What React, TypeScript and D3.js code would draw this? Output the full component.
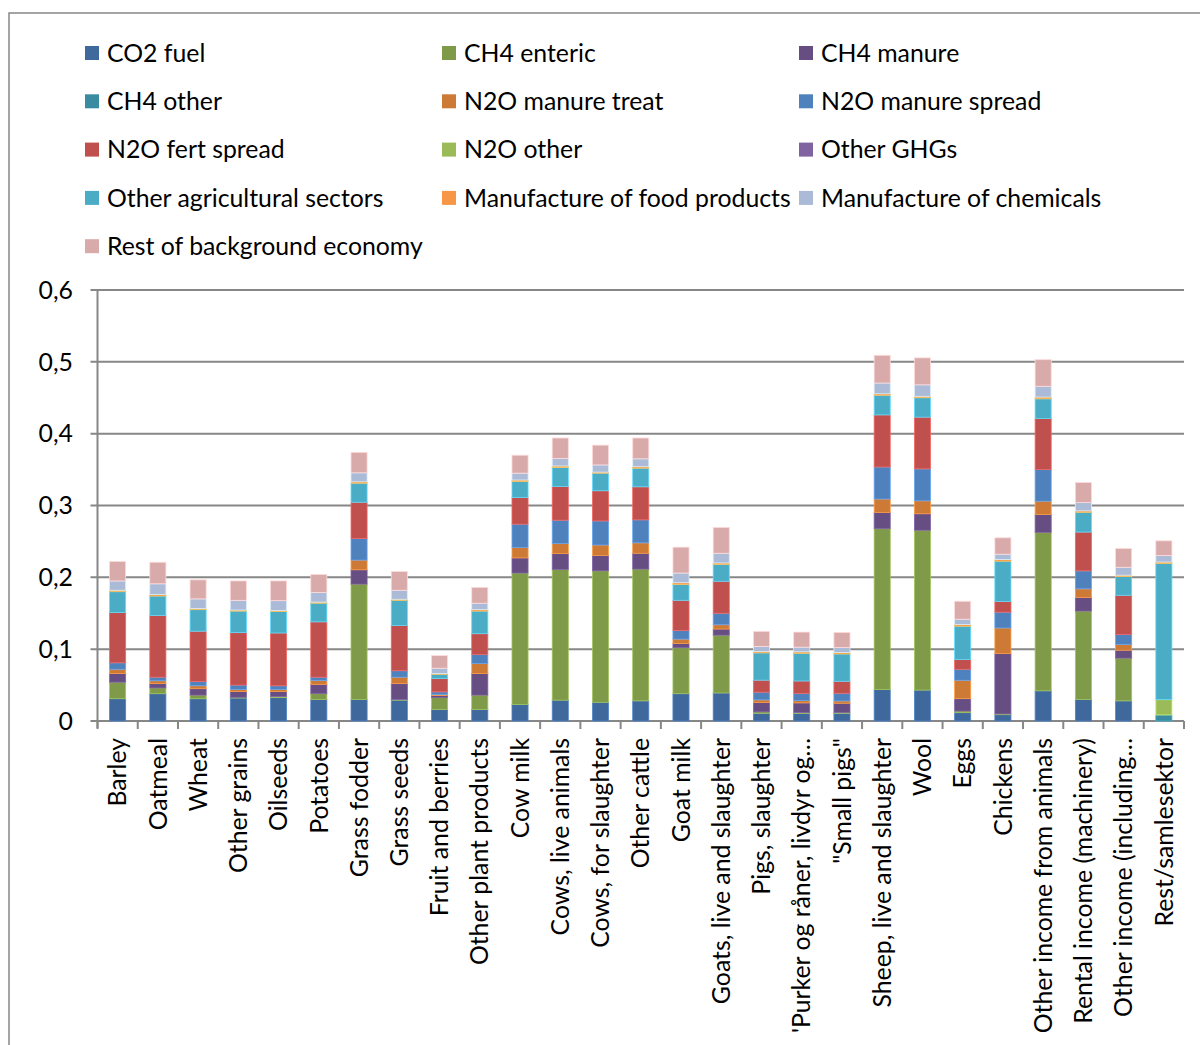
import React from "react";
import * as d3 from "d3";

// Product groups along the x axis
const categories = [
  "Barley", "Oatmeal", "Wheat", "Other grains", "Oilseeds", "Potatoes",
  "Grass fodder", "Grass seeds", "Fruit and berries", "Other plant products",
  "Cow milk", "Cows, live animals", "Cows, for slaughter", "Other cattle",
  "Goat milk", "Goats, live and slaughter", "Pigs, slaughter",
  "'Purker og råner, livdyr og…", "\"Small pigs\"", "Sheep, live and slaughter",
  "Wool", "Eggs", "Chickens", "Other income from animals",
  "Rental income (machinery)", "Other income (including…", "Rest/samlesektor",
];

// Emission contributions per group (stacked bottom to top)
const co2Fuel = [0.031, 0.038, 0.031, 0.032, 0.0325, 0.030, 0.030, 0.029, 0.016, 0.016, 0.023, 0.029, 0.026, 0.028, 0.038, 0.039, 0.0107, 0.0107, 0.0107, 0.0437, 0.043, 0.0116, 0.0088, 0.042, 0.030, 0.028, 0];
const ch4Enteric = [0.023, 0.008, 0.005, 0.001, 0.0015, 0.008, 0.1605, 0.001, 0.0165, 0.020, 0.183, 0.182, 0.183, 0.1835, 0.064, 0.0805, 0.002, 0.001, 0.001, 0.224, 0.2225, 0.0023, 0.001, 0.2205, 0.123, 0.0595, 0];
const ch4Manure = [0.012, 0.006, 0.009, 0.008, 0.007, 0.013, 0.020, 0.022, 0.003, 0.030, 0.021, 0.022, 0.0215, 0.022, 0.006, 0.0085, 0.013, 0.0135, 0.013, 0.0227, 0.023, 0.0172, 0.084, 0.025, 0.019, 0.011, 0];
const ch4Other = [0, 0, 0, 0, 0, 0, 0, 0, 0, 0, 0, 0, 0, 0, 0, 0, 0, 0, 0, 0, 0, 0, 0, 0, 0, 0, 0.0084];
const n2oManureTreat = [0.006, 0.004, 0.004, 0.003, 0.003, 0.0055, 0.0135, 0.009, 0.0015, 0.014, 0.0145, 0.014, 0.0145, 0.0145, 0.006, 0.006, 0.0037, 0.0033, 0.0032, 0.0186, 0.018, 0.0256, 0.0357, 0.0185, 0.012, 0.008, 0];
const n2oManureSpread = [0.009, 0.005, 0.006, 0.006, 0.005, 0.0045, 0.030, 0.009, 0.0035, 0.0125, 0.0325, 0.0325, 0.0335, 0.032, 0.012, 0.016, 0.0107, 0.010, 0.0107, 0.0446, 0.0445, 0.0153, 0.022, 0.044, 0.025, 0.014, 0];
const n2oFertSpread = [0.070, 0.086, 0.070, 0.073, 0.0735, 0.077, 0.0505, 0.063, 0.0185, 0.029, 0.037, 0.047, 0.042, 0.046, 0.042, 0.0445, 0.0167, 0.0172, 0.0167, 0.0725, 0.072, 0.0135, 0.015, 0.071, 0.054, 0.0545, 0];
const n2oOther = [0, 0, 0, 0, 0, 0, 0, 0, 0, 0, 0, 0, 0, 0, 0, 0, 0, 0, 0, 0, 0, 0, 0, 0, 0, 0, 0.0213];
const otherGhgs = [0, 0, 0, 0, 0, 0, 0, 0, 0, 0, 0, 0, 0, 0, 0, 0, 0, 0, 0, 0, 0, 0, 0, 0, 0, 0, 0];
const otherAgri = [0.029, 0.027, 0.030, 0.030, 0.030, 0.026, 0.0265, 0.035, 0.006, 0.0315, 0.0225, 0.0265, 0.0245, 0.026, 0.022, 0.0235, 0.038, 0.0386, 0.038, 0.0274, 0.027, 0.0465, 0.056, 0.0275, 0.0275, 0.026, 0.1896];
const foodProducts = [0.002, 0.002, 0.0015, 0.0015, 0.0015, 0.0015, 0.002, 0.0015, 0.001, 0.002, 0.002, 0.002, 0.0015, 0.002, 0.0025, 0.002, 0.002, 0.002, 0.002, 0.002, 0.002, 0.0023, 0.0023, 0.0025, 0.002, 0.002, 0.002];
const chemicals = [0.013, 0.015, 0.0135, 0.0135, 0.0135, 0.0135, 0.0125, 0.0125, 0.0075, 0.009, 0.0095, 0.0105, 0.010, 0.011, 0.0135, 0.0135, 0.007, 0.0065, 0.007, 0.015, 0.016, 0.0074, 0.0074, 0.015, 0.0115, 0.011, 0.009];
const restEconomy = [0.027, 0.030, 0.0265, 0.027, 0.0275, 0.025, 0.0285, 0.026, 0.0175, 0.022, 0.025, 0.0285, 0.0275, 0.029, 0.036, 0.036, 0.021, 0.021, 0.021, 0.0386, 0.0375, 0.025, 0.0228, 0.037, 0.028, 0.026, 0.0205];

const yTicks = [0, 0.1, 0.2, 0.3, 0.4, 0.5, 0.6];

const series = [
  { key: "co2Fuel", label: "CO2 fuel", color: "#3F689C", values: co2Fuel },
  { key: "ch4Enteric", label: "CH4 enteric", color: "#7F9A48", values: ch4Enteric },
  { key: "ch4Manure", label: "CH4 manure", color: "#664E83", values: ch4Manure },
  { key: "ch4Other", label: "CH4 other", color: "#3A8BA1", values: ch4Other },
  { key: "n2oManureTreat", label: "N2O manure treat", color: "#CC7A36", values: n2oManureTreat },
  { key: "n2oManureSpread", label: "N2O manure spread", color: "#4F81BD", values: n2oManureSpread },
  { key: "n2oFertSpread", label: "N2O fert spread", color: "#C0504D", values: n2oFertSpread },
  { key: "n2oOther", label: "N2O other", color: "#9BBB59", values: n2oOther },
  { key: "otherGhgs", label: "Other GHGs", color: "#8064A2", values: otherGhgs },
  { key: "otherAgri", label: "Other agricultural sectors", color: "#4BACC6", values: otherAgri },
  { key: "foodProducts", label: "Manufacture of food products", color: "#F79646", values: foodProducts },
  { key: "chemicals", label: "Manufacture of chemicals", color: "#AABAD7", values: chemicals },
  { key: "restEconomy", label: "Rest of background economy", color: "#D9AAAA", values: restEconomy },
];

const FONT = "Lato, 'Noto Sans', sans-serif";
const FONT_SIZE = 24.8;
const GRID = "#878787";

export default function App() {
  const width = 1200;
  const height = 1045;
  const plot = { left: 97.5, right: 1184, top: 290, bottom: 721 };

  const x = d3.scaleBand<string>()
    .domain(categories)
    .range([plot.left, plot.right])
    .paddingInner(0.6)
    .paddingOuter(0.3);
  const step = (plot.right - plot.left) / categories.length;

  const y = d3.scaleLinear().domain([0, 0.6]).range([plot.bottom, plot.top]);

  const rows = categories.map((c, i) => {
    const r: Record<string, any> = { category: c };
    series.forEach((s) => (r[s.key] = s.values[i]));
    return r;
  });
  const stacked = d3.stack<any>().keys(series.map((s) => s.key))(rows);

  const legendCols = [107, 464, 821];
  const legendRowY = (r: number) => 53 + r * 48.3;

  return (
    <svg
      width={width}
      height={height}
      style={{ position: "absolute", left: 0, top: 0, background: "#fff" }}
      fontFamily={FONT}
    >
      <rect x={9} y={13} width={1300} height={1200} fill="#fff" stroke={GRID} strokeWidth={1.5} />

      {/* legend */}
      {series.map((s, i) => {
        const col = i % 3;
        const row = Math.floor(i / 3);
        const tx = legendCols[col];
        const cy = legendRowY(row);
        return (
          <g key={s.key}>
            <rect x={tx - 22} y={cy - 7} width={14} height={14} fill={s.color} />
            <text x={tx} y={cy} dy="0.35em" fontSize={FONT_SIZE} fill="#000">{s.label}</text>
          </g>
        );
      })}

      {/* gridlines and y axis */}
      {yTicks.map((t) => (
        <g key={t}>
          <line x1={plot.left - 7} x2={plot.right} y1={y(t)} y2={y(t)} stroke={GRID} strokeWidth={2} />
          <text x={73} y={y(t)} dy="0.35em" textAnchor="end" fontSize={FONT_SIZE} fill="#000">
            {t === 0 ? "0" : d3.format(".1f")(t).replace(".", ",")}
          </text>
        </g>
      ))}
      <line x1={plot.left} x2={plot.left} y1={plot.top} y2={plot.bottom + 7} stroke={GRID} strokeWidth={2} />

      {/* x ticks */}
      {d3.range(categories.length + 1).map((i) => (
        <line key={i} x1={plot.left + i * step} x2={plot.left + i * step} y1={plot.bottom} y2={plot.bottom + 8} stroke={GRID} strokeWidth={2} />
      ))}

      {/* stacked bars */}
      {stacked.map((layer, si) => (
        <g key={layer.key} fill={series[si].color}>
          {layer.map((d, i) => {
            const h = y(d[0]) - y(d[1]);
            if (h <= 0) return null;
            return (
              <rect
                key={i}
                x={x(categories[i])}
                y={y(d[1])}
                width={x.bandwidth()}
                height={h}
                stroke={d3.color(series[si].color)!.brighter(0.7).formatHex()}
                strokeWidth={0.8}
              />
            );
          })}
        </g>
      ))}

      {/* x labels */}
      {categories.map((c) => {
        const cx = (x(c) ?? 0) + x.bandwidth() / 2;
        return (
          <text
            key={c}
            transform={`translate(${cx},738) rotate(-90)`}
            textAnchor="end"
            dy="0.35em"
            fontSize={FONT_SIZE}
            fill="#000"
          >
            {c}
          </text>
        );
      })}
    </svg>
  );
}
